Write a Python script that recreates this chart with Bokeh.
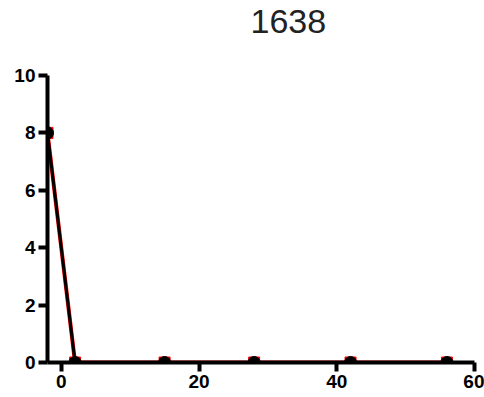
from bokeh.plotting import figure
from bokeh.models import Range1d, FixedTicker, Title
from bokeh.embed import file_html
from bokeh.resources import INLINE

title_text = "1638"
days = [-2, 2, 15, 28, 42, 56]
black_vals = [8, 0, 0, 0, 0, 0]
red_vals = [8, 0, 0, 0, 0, 0]
x_ticks = [0, 20, 40, 60]
y_ticks = [0, 2, 4, 6, 8, 10]

p = figure(width=484, height=396, output_backend="svg", toolbar_location=None,
           x_range=Range1d(-2, 60), y_range=Range1d(0, 10),
           min_border_left=47, min_border_right=10, min_border_top=75, min_border_bottom=34,
           title=None)
p.outline_line_color = None
p.grid.visible = False
p.background_fill_color = "white"

spacer = Title(text=" ", text_font_size="20px", standoff=19, text_color="white")
p.add_layout(spacer, "above")
p.add_layout(Title(text=title_text, align="left", offset=203, standoff=0,
                   text_font="Liberation Sans", text_font_size="34px",
                   text_font_style="normal", text_color="#222222"), "above")

for ax in (p.xaxis[0], p.yaxis[0]):
    ax.axis_line_width = 4
    ax.axis_line_color = "black"
    ax.major_tick_line_width = 4
    ax.major_tick_line_color = "black"
    ax.major_tick_out = 9
    ax.major_tick_in = 0
    ax.minor_tick_line_color = None
    ax.major_label_text_font = "Liberation Sans"
    ax.major_label_text_font_style = "bold"
    ax.major_label_text_font_size = "19px"
    ax.major_label_text_color = "black"
    ax.major_label_standoff = 3

p.xaxis[0].ticker = FixedTicker(ticks=x_ticks)
p.yaxis[0].ticker = FixedTicker(ticks=y_ticks)

p.line(days, red_vals, line_color="red", line_width=4)
p.scatter(days, red_vals, marker="square", size=11, fill_color="red", line_color="red")
p.line(days, black_vals, line_color="black", line_width=3)
p.scatter(days, black_vals, marker="circle", size=12, fill_color="black", line_color="black")

open("out.html", "w").write(file_html(p, INLINE))
